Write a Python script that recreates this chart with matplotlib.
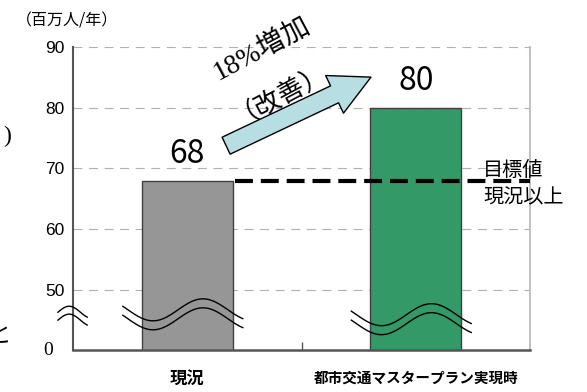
import numpy as np
import matplotlib.pyplot as plt
from matplotlib.patches import FancyArrowPatch
import matplotlib.transforms as mtransforms

plt.rcParams['font.family'] = ['Noto Sans CJK JP', 'DejaVu Sans']

# data
categories = ['現況', '都市交通マスタープラン実現時']
values = [68, 80]
bar_colors = ['#969696', '#339966']
yticks = [50, 60, 70, 80, 90]
target = 68
unit_label = '（百万人/年）'
growth_label = '18%増加'
growth_sub = '（改善）'
target_label = ['目標値', '現況以上']
break_y = [46.7, 45.9]

fig = plt.figure(figsize=(5.87, 3.92), dpi=100)
ax = fig.add_axes([0.1244, 0.1059, 0.7785, 0.774])

x = np.arange(len(categories))
ax.bar(x, values, width=0.4, color=bar_colors, edgecolor='#404040', lw=1, zorder=2)
ax.set_xlim(-0.5, 1.5)
ax.set_ylim(40, 90)

# grid + spines
for v in yticks:
    ax.axhline(v, color='#b0b0b0', lw=0.8, dashes=(8, 6), zorder=1)
ax.spines['top'].set_visible(False)
ax.spines['left'].set_color('#555555'); ax.spines['left'].set_linewidth(1.5)
ax.spines['bottom'].set_color('#555555'); ax.spines['bottom'].set_linewidth(1.8)
ax.spines['right'].set_color('#bbbbbb'); ax.spines['right'].set_linewidth(1.3)

ax.set_yticks(yticks)
ax.set_yticklabels([str(v) for v in yticks], family='Liberation Sans', fontsize=12.5)
ax.tick_params(axis='y', length=0, pad=6)
ax.text(-0.055, 40, '0', transform=mtransforms.blended_transform_factory(ax.transAxes, ax.transData),
        ha='center', va='center', family='Liberation Serif', fontsize=14)

ax.set_xticks(x)
ax.set_xticklabels(categories, fontweight='bold')
ax.get_xticklabels()[0].set_fontsize(12.5)
ax.get_xticklabels()[1].set_fontsize(10.5)
ax.tick_params(axis='x', length=0, pad=14)
ax.set_xticks([0.5], minor=True)
ax.tick_params(axis='x', which='minor', direction='in', length=6, width=1, color='#555555')

# value labels
for xi, v in zip(x, values):
    ax.annotate(str(v), (xi, v), xytext=(0, 13), textcoords='offset points',
                ha='center', va='baseline', fontsize=23)

# target line
ax.plot([0.21, 1.5], [target, target], color='black', lw=3, dashes=(4.3, 1.9), clip_on=False, zorder=3)
ax.text(1.294, 69.7, target_label[0], ha='left', va='center', fontsize=14.5)
ax.text(1.294, 65.1, target_label[1], ha='left', va='center', fontsize=14.5)

# growth arrow
arrow = FancyArrowPatch((0.17, 73.75), (0.804, 85.05), arrowstyle='simple,head_length=29,head_width=30,tail_width=13.5',
                        mutation_scale=1, fc='#b7dfe3', ec='black', lw=1, shrinkA=0, shrinkB=0, zorder=4)
ax.add_patch(arrow)
ax.text(0.327, 89.6, growth_label, rotation=28, ha='center', va='center', rotation_mode='anchor',
        family=['Liberation Serif', 'Noto Sans CJK JP'], fontsize=20, clip_on=False)
ax.text(0.40, 83.0, growth_sub, rotation=28, ha='center', va='center', rotation_mode='anchor',
        fontsize=19, clip_on=False)

# break marks on bars
P = 0.4376
for xi, yc in zip(x, break_y):
    xs = np.linspace(-0.282, 0.243, 120)
    ys = yc - 1.81 * np.cos(2 * np.pi * (xs + 0.150) / P)
    ax.plot(xs + xi, ys, color='black', lw=1, zorder=3)
    ax.plot(xs + xi, ys - 1.48, color='black', lw=1, zorder=3)

# break mark on y axis
bt = mtransforms.blended_transform_factory(ax.transAxes, ax.transData)
xs = np.linspace(-0.033, 0.031, 40)
ys = 46.3 + 0.99 * np.sin(1.3 * np.pi * (xs + 0.033) / 0.064)
ax.plot(xs, ys, color='black', lw=1, transform=bt, clip_on=False, zorder=5)
ax.plot(xs, ys - 1.3, color='black', lw=1, transform=bt, clip_on=False, zorder=5)

fig.text(67 / 587, 1 - 21 / 392, unit_label, ha='center', va='center', fontsize=11.5)

# clipped fragments at left edge of source image
fig.text(11 / 587, 1 - 136 / 392, ')', ha='right', va='center', family='Liberation Serif', fontsize=17)
fig.text(11 / 587, 1 - 336 / 392, 'と', ha='right', va='center', fontsize=17)

fig.savefig('out.png', dpi=100)
